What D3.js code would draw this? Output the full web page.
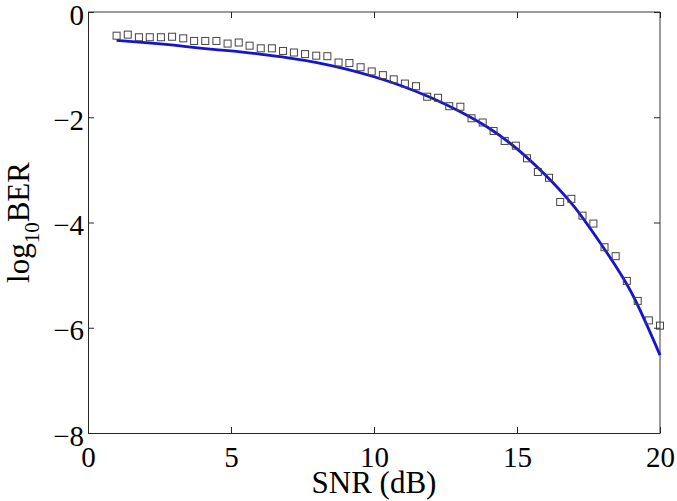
<!DOCTYPE html>
<html>
<head>
<meta charset="utf-8">
<script src="https://cdn.jsdelivr.net/npm/d3@7"></script>
<style>
  body { margin: 0; background: #fff; }
  svg { display: block; }
</style>
</head>
<body>
<div id="chart"></div>
<script>
// SNR grid of the simulated points (dB)
const snrSim = [1.00, 1.39, 1.78, 2.16, 2.55, 2.94, 3.33, 3.71, 4.10, 4.49,
                4.88, 5.27, 5.65, 6.04, 6.43, 6.82, 7.20, 7.59, 7.98, 8.37,
                8.76, 9.14, 9.53, 9.92, 10.31, 10.69, 11.08, 11.47, 11.86, 12.24,
                12.63, 13.02, 13.41, 13.80, 14.18, 14.57, 14.96, 15.35, 15.73, 16.12,
                16.51, 16.90, 17.29, 17.67, 18.06, 18.45, 18.84, 19.22, 19.61, 20.00];
// log10 BER, simulated (squares)
const berSim = [-0.45, -0.43, -0.48, -0.48, -0.48, -0.47, -0.50, -0.55, -0.55, -0.55,
                -0.60, -0.58, -0.64, -0.69, -0.69, -0.74, -0.77, -0.80, -0.83, -0.84,
                -0.96, -0.97, -1.05, -1.13, -1.20, -1.28, -1.36, -1.41, -1.61, -1.63,
                -1.79, -1.80, -2.02, -2.10, -2.26, -2.45, -2.54, -2.78, -3.04, -3.15,
                -3.61, -3.55, -3.87, -4.02, -4.47, -4.64, -5.11, -5.49, -5.86, -5.96];
// log10 BER, theory (blue line)
const snrTheory = [1, 2, 3, 4, 5, 6, 7, 8, 9, 10, 11, 12, 13, 14, 15, 16, 17, 18, 19, 20];
const berTheory = [-0.54, -0.58, -0.63, -0.69, -0.74, -0.80, -0.87, -0.96, -1.08, -1.23,
                   -1.41, -1.63, -1.89, -2.20, -2.60, -3.10, -3.70, -4.46, -5.33, -6.52];

const xTicks = [0, 5, 10, 15, 20];
const yTicks = [0, -2, -4, -6, -8];

const W = 677, H = 501;
const margin = { top: 12, right: 17, bottom: 68, left: 88 };
const width = W - margin.left - margin.right;
const height = H - margin.top - margin.bottom;
const serif = "'Liberation Serif', 'Times New Roman', serif";

const svg = d3.select("#chart").append("svg")
  .attr("width", W)
  .attr("height", H);

const g = svg.append("g")
  .attr("transform", "translate(" + margin.left + "," + margin.top + ")");

const x = d3.scaleLinear().domain([0, 20]).range([0, width]);
const y = d3.scaleLinear().domain([-8, 0]).range([height, 0]);

// box (top/right lighter like the original)
g.append("line").attr("x1", 0).attr("x2", width).attr("y1", 0).attr("y2", 0)
  .attr("stroke", "#7a7a7a").attr("stroke-width", 1.5);
g.append("line").attr("x1", width).attr("x2", width).attr("y1", 0).attr("y2", height)
  .attr("stroke", "#7a7a7a").attr("stroke-width", 1.5);

// axes with inward ticks
const xAxis = g.append("g")
  .attr("transform", "translate(0," + height + ")")
  .call(d3.axisBottom(x).tickValues(xTicks).tickSizeInner(-6).tickSizeOuter(0).tickPadding(13));
const yAxis = g.append("g")
  .call(d3.axisLeft(y).tickValues(yTicks).tickSizeInner(-6).tickSizeOuter(0).tickPadding(4));
// mirror ticks on top and right
g.append("g")
  .call(d3.axisTop(x).tickValues(xTicks).tickSizeInner(-6).tickSizeOuter(0).tickFormat(""))
  .select(".domain").remove();
g.append("g")
  .attr("transform", "translate(" + width + ",0)")
  .call(d3.axisRight(y).tickValues(yTicks).tickSizeInner(-6).tickSizeOuter(0).tickFormat(""))
  .select(".domain").remove();

svg.selectAll(".domain").attr("stroke", "#262626");
svg.selectAll(".tick line").attr("stroke", "#262626");
xAxis.attr("font-family", null);
yAxis.attr("font-family", null);
xAxis.selectAll("text").style("font-family", serif).attr("font-size", 29).attr("fill", "#000").attr("dy", "0.71em");
yAxis.selectAll("text").style("font-family", serif).attr("font-size", 29).attr("fill", "#000").attr("dy", "0.42em");

// theory curve
const line = d3.line()
  .x(function(d, i) { return x(snrTheory[i]); })
  .y(function(d) { return y(d); })
  .curve(d3.curveNatural);
g.append("path")
  .datum(berTheory)
  .attr("d", line)
  .attr("fill", "none")
  .attr("stroke", "#1414d2")
  .attr("stroke-width", 2.8);

// simulated squares
const s = 7;
g.selectAll(".sim")
  .data(berSim).enter()
  .append("rect")
    .attr("class", "sim")
    .attr("x", function(d, i) { return x(snrSim[i]) - s / 2; })
    .attr("y", function(d) { return y(d) - s / 2; })
    .attr("width", s)
    .attr("height", s)
    .attr("fill", "none")
    .attr("stroke", "#444")
    .attr("stroke-width", 1);

// axis titles
svg.append("text")
  .attr("x", margin.left + width / 2)
  .attr("y", 493)
  .attr("text-anchor", "middle")
  .style("font-family", serif)
  .attr("font-size", 31)
  .text("SNR (dB)");

const ylab = svg.append("text")
  .attr("transform", "translate(29," + (margin.top + height / 2) + ") rotate(-90)")
  .attr("text-anchor", "middle")
  .style("font-family", serif)
  .attr("font-size", 31);
ylab.append("tspan").text("log");
ylab.append("tspan").attr("font-size", 21).attr("dy", 10).text("10");
ylab.append("tspan").attr("dy", -10).text("BER");
</script>
</body>
</html>
